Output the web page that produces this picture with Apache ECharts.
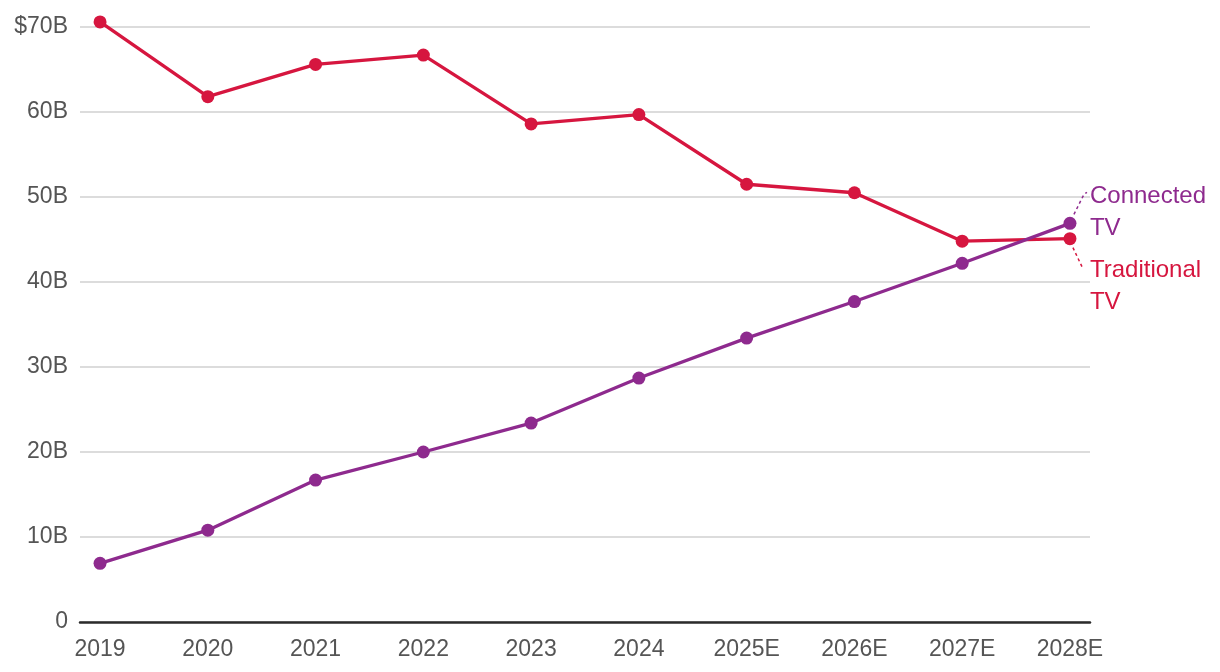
<!DOCTYPE html>
<html><head><meta charset="utf-8">
<script src="https://cdn.jsdelivr.net/npm/echarts@6/dist/echarts.min.js"></script>
<style>html,body{margin:0;padding:0;background:#fff}#c{width:1220px;height:672px}</style>
</head><body><div id="c"></div>
<script>
const categories = ['2019','2020','2021','2022','2023','2024','2025E','2026E','2027E','2028E'];
const traditionalTV = [70.6, 61.8, 65.6, 66.7, 58.6, 59.7, 51.5, 50.5, 44.8, 45.1];
const connectedTV = [6.9, 10.8, 16.7, 20.0, 23.4, 28.7, 33.4, 37.7, 42.2, 46.9];
const seriesNames = ['Connected\nTV', 'Traditional\nTV'];
const colors = ['#8e2a8e', '#d6163f'];
const FONT = '"Liberation Sans", Arial, sans-serif';

function mk(name, vals, color, up) {
  const n = vals.length;
  return {
    type: 'line', name: name, clip: false,
    data: vals.map((v, i) => i === n - 1 ? {
      value: [i, v],
      label: { show: true, formatter: name, position: 'right', color: color,
        fontSize: 24, lineHeight: 32, fontFamily: FONT, align: 'left', verticalAlign: 'middle' }
    } : [i, v]),
    symbol: 'circle', symbolSize: 13,
    lineStyle: { color: color, width: 3.3 },
    itemStyle: { color: color },
    label: { show: false },
    labelLayout: function (p) {
      if (p.dataIndex !== n - 1) return {};
      const cx = p.rect.x + p.rect.width / 2, cy = p.rect.y + p.rect.height / 2;
      return { x: cx + 20, y: up ? cy - 11 : cy + 48, align: 'left', verticalAlign: 'middle' };
    },
    z: up ? 3 : 2
  };
}

const chart = echarts.init(document.getElementById('c'), null, { renderer: 'canvas' });
chart.setOption({
  animation: false,
  backgroundColor: '#fff',
  grid: { left: 80, right: 130, top: 27, bottom: 50 },
  xAxis: {
    type: 'value', min: -0.186, max: categories.length - 1 + 0.186,
    axisLine: { show: true, onZero: false, lineStyle: { color: '#2b2b2b', width: 2.5 } },
    axisTick: { show: false },
    splitLine: { show: false },
    axisLabel: {
      customValues: categories.map((c, i) => i),
      formatter: v => categories[Math.round(v)],
      color: '#555', fontSize: 23, fontFamily: FONT, margin: 16
    }
  },
  yAxis: {
    type: 'value', min: 0, max: 70, interval: 10,
    axisLine: { show: false }, axisTick: { show: false },
    splitLine: { lineStyle: { color: '#d0d0d0', width: 1.5 } },
    axisLabel: {
      formatter: v => v === 0 ? '0' : (v === 70 ? '$' + v + 'B' : v + 'B'),
      color: '#555', fontSize: 23, fontFamily: FONT, margin: 12
    }
  },
  series: [
    mk(seriesNames[1], traditionalTV, colors[1], false),
    mk(seriesNames[0], connectedTV, colors[0], true)
  ]
});

// dotted leader lines from last points to the end labels
const last = categories.length - 1;
const pc = chart.convertToPixel({ seriesIndex: 1 }, [last, connectedTV[last]]);
const pt = chart.convertToPixel({ seriesIndex: 0 }, [last, traditionalTV[last]]);
chart.setOption({
  graphic: [
    { type: 'polyline', z: 10, shape: { points: [[pc[0] + 4, pc[1] - 9], [pc[0] + 14, pc[1] - 29], [pc[0] + 17, pc[1] - 31]] },
      style: { stroke: colors[0], lineWidth: 1.5, lineDash: [3, 3], fill: null } },
    { type: 'polyline', z: 10, shape: { points: [[pt[0] + 3, pt[1] + 9], [pt[0] + 12, pt[1] + 28], [pt[0] + 14, pt[1] + 30]] },
      style: { stroke: colors[1], lineWidth: 1.5, lineDash: [3, 3], fill: null } }
  ]
});
</script></body></html>
